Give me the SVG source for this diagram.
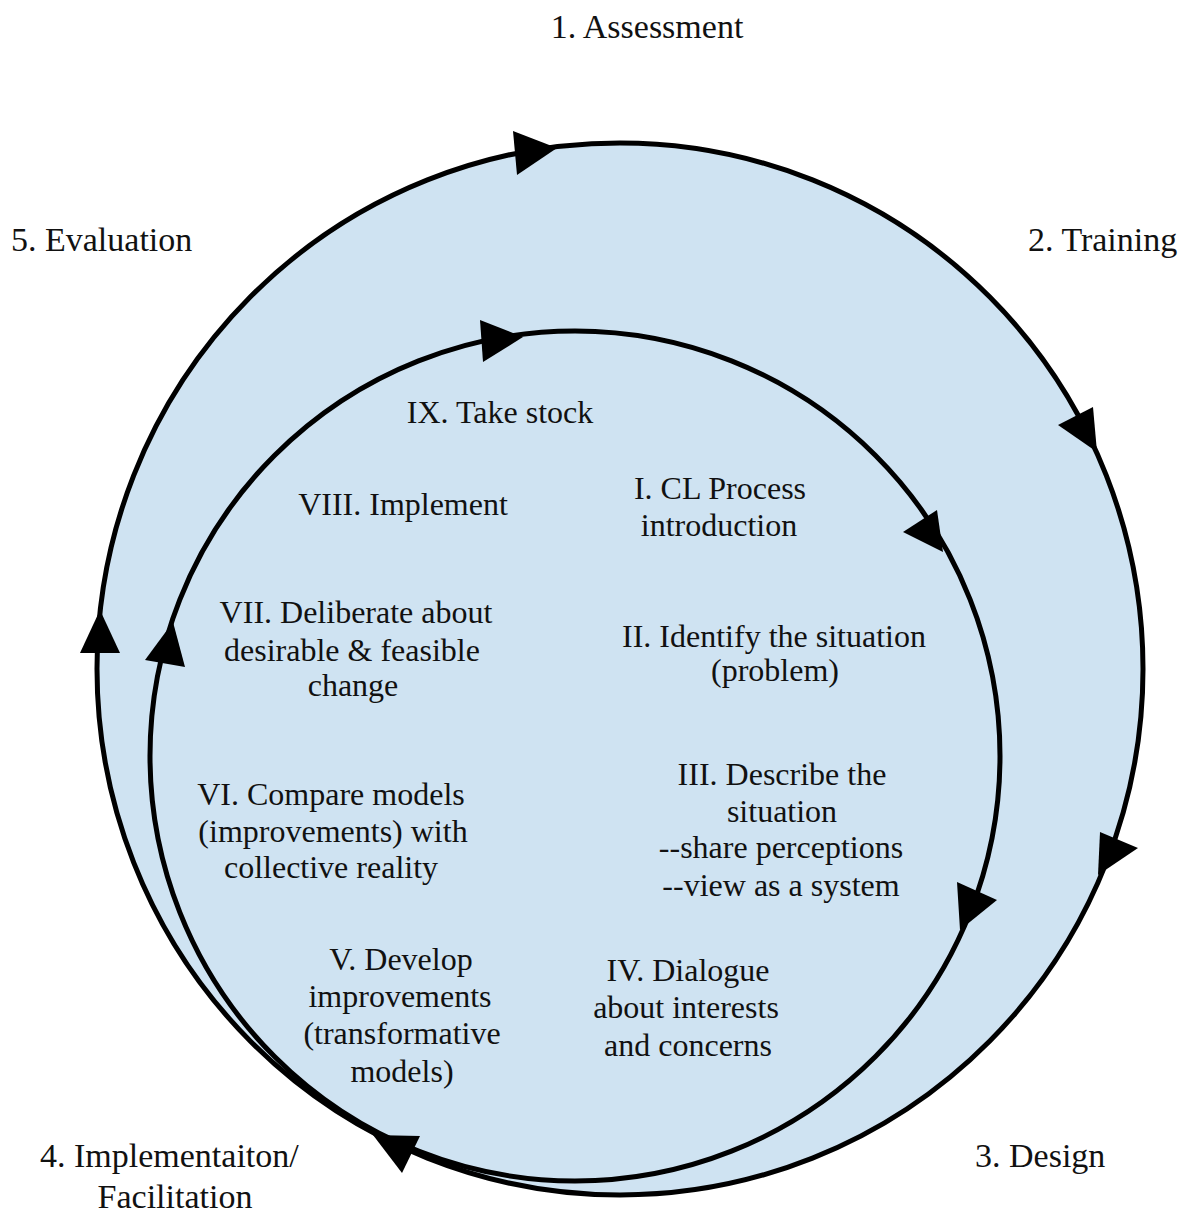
<svg xmlns="http://www.w3.org/2000/svg" width="1190" height="1217" viewBox="0 0 1190 1217">
  <style>
    .ring { fill: none; stroke: #000; stroke-width: 5; }
    .head { fill: #000; stroke: none; }
    .lbl { font-family: "Liberation Serif", "Times New Roman", serif; font-size: 34px; fill: #111; }
    .step { font-family: "Liberation Serif", "Times New Roman", serif; font-size: 32px; fill: #111; text-anchor: middle; }
  </style>
  <rect x="0" y="0" width="1190" height="1217" fill="#ffffff"/>
  <ellipse id="disc" cx="620" cy="669" rx="523" ry="526" fill="#cfe3f2"/>

  <g id="connectors">
    <ellipse class="ring" cx="620" cy="669" rx="523" ry="526"/>
    <circle class="ring" cx="575" cy="756" r="425"/>
    <!-- outer ring arrowheads -->
    <polygon class="head" points="513,131 517,175 557,148"/>
    <polygon class="head" points="1058,425 1093,407 1097,452"/>
    <polygon class="head" points="1100,832 1098,875 1138,848"/>
    <polygon class="head" points="373,1135 420,1136 402,1173"/>
    <polygon class="head" points="80,653 120,653 100,610"/>
    <!-- inner ring arrowheads -->
    <polygon class="head" points="480,320 483,362 523,337"/>
    <polygon class="head" points="903,532 937,510 943,552"/>
    <polygon class="head" points="957,882 960,930 997,900"/>
    <polygon class="head" points="145,660 185,667 173,622"/>
  </g>

  <g id="phase-assessment"><text class="lbl" x="647" y="38" text-anchor="middle">1. Assessment</text></g>
  <g id="phase-training"><text class="lbl" x="1028" y="251">2. Training</text></g>
  <g id="phase-design"><text class="lbl" x="975" y="1167">3. Design</text></g>
  <g id="phase-implementation">
    <text class="lbl" x="40" y="1167">4. Implementaiton/</text>
    <text class="lbl" x="175" y="1208" text-anchor="middle">Facilitation</text>
  </g>
  <g id="phase-evaluation"><text class="lbl" x="11" y="251">5. Evaluation</text></g>

  <g id="step-9"><text class="step" x="500" y="423">IX. Take stock</text></g>
  <g id="step-8"><text class="step" x="403" y="515">VIII. Implement</text></g>
  <g id="step-1">
    <text class="step" x="720" y="499">I. CL Process</text>
    <text class="step" x="719" y="536">introduction</text>
  </g>
  <g id="step-7">
    <text class="step" x="356" y="623">VII. Deliberate about</text>
    <text class="step" x="352" y="661">desirable &amp; feasible</text>
    <text class="step" x="353" y="696">change</text>
  </g>
  <g id="step-2">
    <text class="step" x="774" y="647">II. Identify the situation</text>
    <text class="step" x="775" y="681">(problem)</text>
  </g>
  <g id="step-3">
    <text class="step" x="782" y="785">III. Describe the</text>
    <text class="step" x="782" y="822">situation</text>
    <text class="step" x="781" y="858">--share perceptions</text>
    <text class="step" x="781" y="896">--view as a system</text>
  </g>
  <g id="step-6">
    <text class="step" x="331" y="805">VI. Compare models</text>
    <text class="step" x="333" y="842">(improvements) with</text>
    <text class="step" x="331" y="878">collective reality</text>
  </g>
  <g id="step-5">
    <text class="step" x="401" y="970">V. Develop</text>
    <text class="step" x="400" y="1007">improvements</text>
    <text class="step" x="402" y="1044">(transformative</text>
    <text class="step" x="402" y="1082">models)</text>
  </g>
  <g id="step-4">
    <text class="step" x="688" y="981">IV. Dialogue</text>
    <text class="step" x="686" y="1018">about interests</text>
    <text class="step" x="688" y="1056">and concerns</text>
  </g>
</svg>
